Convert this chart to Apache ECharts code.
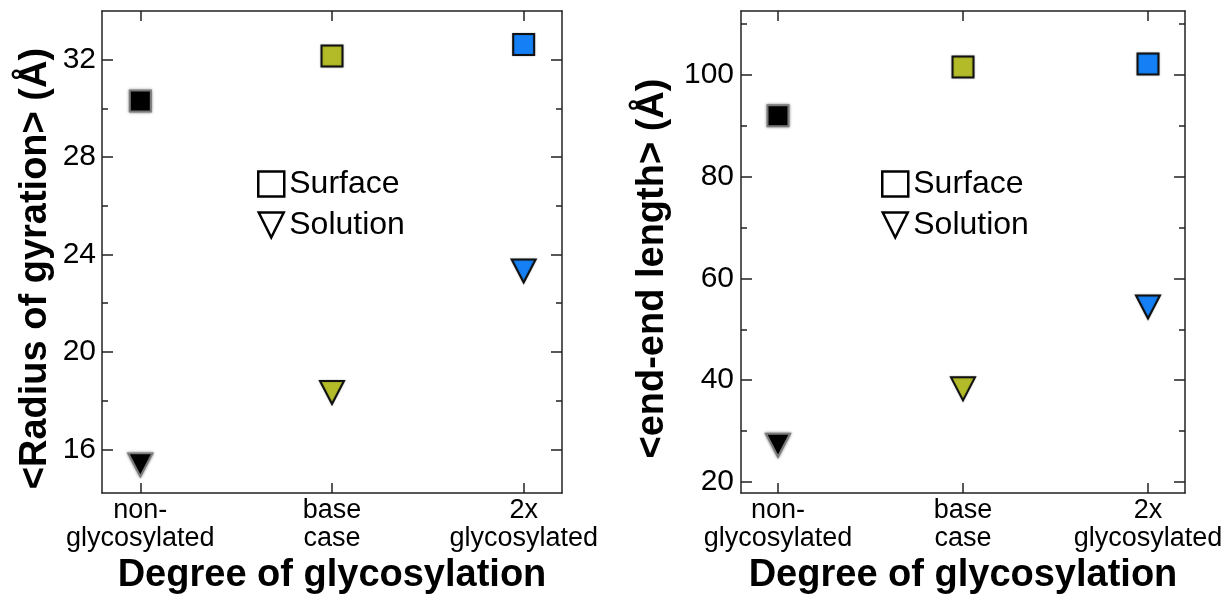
<!DOCTYPE html>
<html>
<head>
<meta charset="utf-8">
<script src="https://cdn.jsdelivr.net/npm/echarts@6/dist/echarts.min.js"></script>
<style>
  html, body { margin: 0; padding: 0; background: #fff; }
  #main { width: 1228px; height: 600px; }
</style>
</head>
<body>
<div id="main"></div>
<script>
// data
var categories = ['non-\nglycosylated', 'base\ncase', '2x\nglycosylated'];
var pointColors = ['#000000', '#b3bc28', '#1580f5'];

var rgSurface = [30.3, 32.15, 32.62];
var rgSolution = [15.36, 18.33, 23.32];
var rgTicks = [16, 20, 24, 28, 32];
var rgMinor = [18, 22, 26, 30];

var eeSurface = [92.0, 101.6, 102.2];
var eeSolution = [27.2, 38.3, 54.4];
var eeTicks = [20, 40, 60, 80, 100];
var eeMinor = [30, 50, 70, 90, 110];

var catPos = [0, 1, 2];
var FONT = 'Liberation Sans, Arial, Helvetica, sans-serif';

var chart = echarts.init(document.getElementById('main'));

function pointData(vals) {
    return vals.map(function (v, i) {
        var black = i === 0;
        return {
            value: [catPos[i], v],
            itemStyle: {
                color: pointColors[i],
                opacity: 1,
                borderColor: black ? '#7a7a7a' : '#111',
                borderWidth: 2,
                shadowBlur: black ? 3 : 2,
                shadowColor: black ? 'rgba(0,0,0,0.45)' : 'rgba(0,0,0,0.25)'
            }
        };
    });
}

function xAxes(grid) {
    var common = {
        gridIndex: grid,
        type: 'value',
        min: -0.2,
        max: 2.2,
        splitLine: { show: false },
        axisLine: { show: true, onZero: false, lineStyle: { color: '#222', width: 1.5 } },
        axisTick: { show: true, inside: true, length: 10, customValues: catPos, lineStyle: { color: '#222', width: 1.5 } }
    };
    var bottom = Object.assign({}, common, {
        position: 'bottom',
        name: 'Degree of glycosylation',
        nameLocation: 'middle',
        nameGap: 61,
        nameTextStyle: { fontFamily: FONT, fontWeight: 'bold', fontSize: 38, color: '#000' },
        axisLabel: {
            customValues: catPos,
            margin: 3,
            fontFamily: FONT,
            fontSize: 27,
            lineHeight: 28,
            color: '#000',
            formatter: function (v) { return categories[Math.round(v)]; }
        }
    });
    var top = Object.assign({}, common, { position: 'top', axisLabel: { show: false } });
    return [bottom, top];
}

function yAxes(grid, min, max, ticks, minor, name, gap, labelMargin) {
    var line = { show: true, onZero: false, lineStyle: { color: '#222', width: 1.5 } };
    var noLine = { show: false, onZero: false };
    var tickStyle = { color: '#222', width: 1.5 };
    var base = { gridIndex: grid, type: 'value', min: min, max: max, splitLine: { show: false } };
    return [
        Object.assign({}, base, {
            position: 'left',
            name: name,
            nameLocation: 'middle',
            nameRotate: 90,
            nameGap: gap,
            nameTextStyle: { fontFamily: FONT, fontWeight: 'bold', fontSize: 38, color: '#000', padding: [0, 33, 0, 0] },
            axisLine: line,
            axisTick: { show: true, inside: true, length: 11, customValues: ticks, lineStyle: tickStyle },
            axisLabel: { customValues: ticks, margin: labelMargin, fontFamily: FONT, fontSize: 30, color: '#000' }
        }),
        Object.assign({}, base, {
            position: 'right',
            axisLine: line,
            axisTick: { show: true, inside: true, length: 11, customValues: ticks, lineStyle: tickStyle },
            axisLabel: { show: false }
        }),
        Object.assign({}, base, {
            position: 'left',
            axisLine: noLine,
            axisTick: { show: true, inside: true, length: 6, customValues: minor, lineStyle: tickStyle },
            axisLabel: { show: false }
        }),
        Object.assign({}, base, {
            position: 'right',
            axisLine: noLine,
            axisTick: { show: true, inside: true, length: 6, customValues: minor, lineStyle: tickStyle },
            axisLabel: { show: false }
        })
    ];
}

function legendFor(left) {
    return {
        orient: 'vertical',
        left: left,
        top: 163,
        itemWidth: 26,
        itemHeight: 25,
        itemGap: 9,
        selectedMode: false,
        textStyle: { fontFamily: FONT, fontSize: 32, color: '#000' },
        data: [
            { name: 'Surface', icon: 'rect', itemStyle: { color: '#fff', borderColor: '#000', borderWidth: 2.5, shadowBlur: 0, opacity: 1 } },
            { name: 'Solution', icon: 'path://M0,0 L10,0 L5,10 Z', itemStyle: { color: '#fff', borderColor: '#000', borderWidth: 2.5, shadowBlur: 0, opacity: 1 } }
        ]
    };
}

var squareSize = 21;
var triSize = [24, 23];

option = {
    animation: false,
    backgroundColor: '#fff',
    grid: [
        { left: 102, top: 11, width: 460, height: 487 },
        { left: 741, top: 11, width: 444, height: 487 }
    ],
    legend: [legendFor(252), legendFor(876)],
    xAxis: xAxes(0).concat(xAxes(1)),
    yAxis: yAxes(0, 14.2, 34, rgTicks, rgMinor, '<Radius of gyration> (\u00c5)', 47, 6)
        .concat(yAxes(1, 17.8, 112.6, eeTicks, eeMinor, '<end-end length> (\u00c5)', 69, 7)),
    series: [
        { name: 'Surface', type: 'scatter', xAxisIndex: 0, yAxisIndex: 0, symbol: 'rect', symbolSize: squareSize, data: pointData(rgSurface) },
        { name: 'Solution', type: 'scatter', xAxisIndex: 0, yAxisIndex: 0, symbol: 'triangle', symbolRotate: 180, symbolSize: triSize, data: pointData(rgSolution) },
        { name: 'Surface', type: 'scatter', xAxisIndex: 2, yAxisIndex: 4, symbol: 'rect', symbolSize: squareSize, data: pointData(eeSurface) },
        { name: 'Solution', type: 'scatter', xAxisIndex: 2, yAxisIndex: 4, symbol: 'triangle', symbolRotate: 180, symbolSize: triSize, data: pointData(eeSolution) }
    ]
};
chart.setOption(option);
</script>
</body>
</html>
